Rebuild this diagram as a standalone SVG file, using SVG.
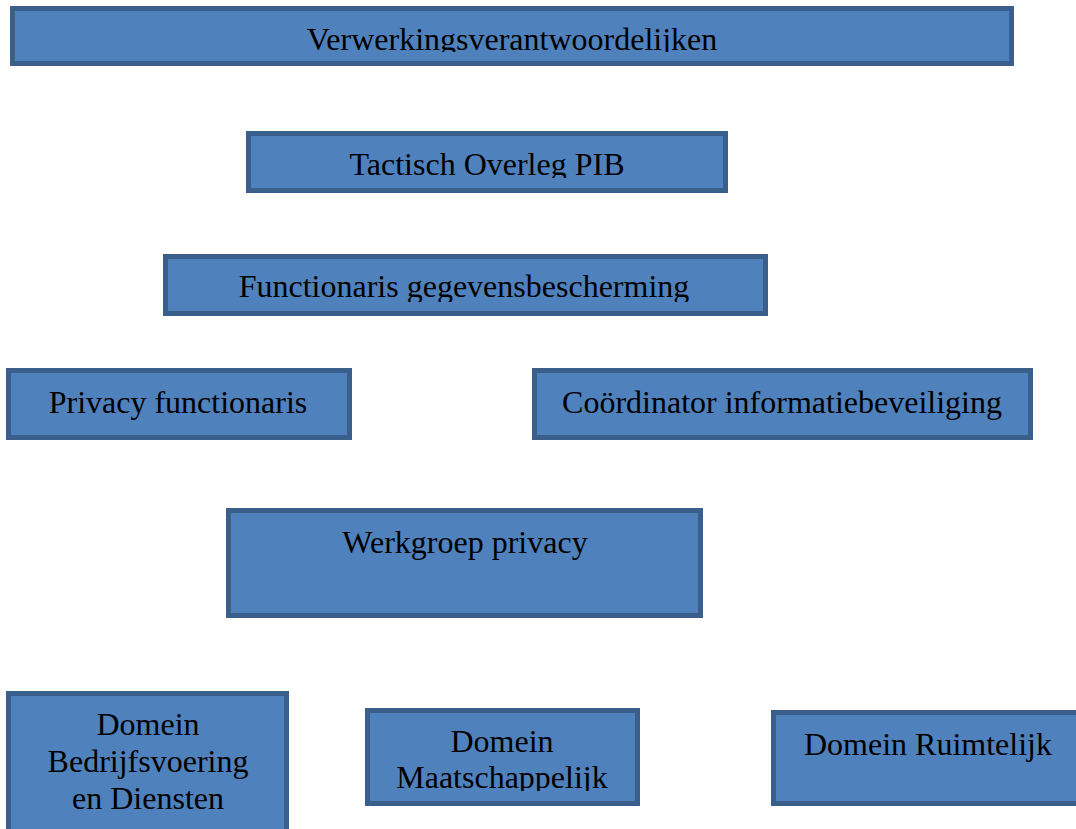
<svg xmlns="http://www.w3.org/2000/svg" width="1076" height="829" viewBox="0 0 1076 829">
  <style>
    .box { fill: #4F81BD; stroke: #3A5F8B; stroke-width: 5; }
    .lbl { font-family: "Liberation Serif", "Times New Roman", serif; font-size: 32px; fill: #000; text-anchor: middle; }
  </style>
  <defs>
    <clipPath id="c1"><rect x="0" y="0" width="1076" height="52"/></clipPath>
    <clipPath id="c2"><rect x="0" y="0" width="1076" height="178"/></clipPath>
    <clipPath id="c3"><rect x="0" y="0" width="1076" height="302"/></clipPath>
    <clipPath id="c8"><rect x="0" y="0" width="1076" height="791"/></clipPath>
  </defs>
  <rect width="1076" height="829" fill="#FFFFFF"/>
  <g id="connectors"/>
  <g id="n1">
    <rect class="box" x="12.5" y="8.5" width="999" height="55"/>
    <text class="lbl" x="512" y="49.5" clip-path="url(#c1)">Verwerkingsverantwoordelijken</text>
  </g>
  <g id="n2">
    <rect class="box" x="248.5" y="133.5" width="477" height="57"/>
    <text class="lbl" x="487" y="174.5" clip-path="url(#c2)">Tactisch Overleg PIB</text>
  </g>
  <g id="n3">
    <rect class="box" x="165.5" y="256.5" width="600" height="57"/>
    <text class="lbl" x="464" y="297" clip-path="url(#c3)">Functionaris gegevensbescherming</text>
  </g>
  <g id="n4">
    <rect class="box" x="8.5" y="370.5" width="341" height="67"/>
    <text class="lbl" x="178" y="413">Privacy functionaris</text>
  </g>
  <g id="n5">
    <rect class="box" x="534.5" y="370.5" width="496" height="67"/>
    <text class="lbl" x="782" y="413">Coördinator informatiebeveiliging</text>
  </g>
  <g id="n6">
    <rect class="box" x="228.5" y="510.5" width="472" height="105"/>
    <text class="lbl" x="465" y="553">Werkgroep privacy</text>
  </g>
  <g id="n7">
    <rect class="box" x="8.5" y="693.5" width="278" height="150"/>
    <text class="lbl" x="148" y="735">Domein</text>
    <text class="lbl" x="148" y="772">Bedrijfsvoering</text>
    <text class="lbl" x="148" y="809">en Diensten</text>
  </g>
  <g id="n8">
    <rect class="box" x="367.5" y="710.5" width="270" height="93"/>
    <g clip-path="url(#c8)">
      <text class="lbl" x="502" y="752">Domein</text>
      <text class="lbl" x="502" y="788">Maatschappelijk</text>
    </g>
  </g>
  <g id="n9">
    <rect class="box" x="773.5" y="712.5" width="310" height="91"/>
    <text class="lbl" x="928" y="755">Domein Ruimtelijk</text>
  </g>
</svg>
